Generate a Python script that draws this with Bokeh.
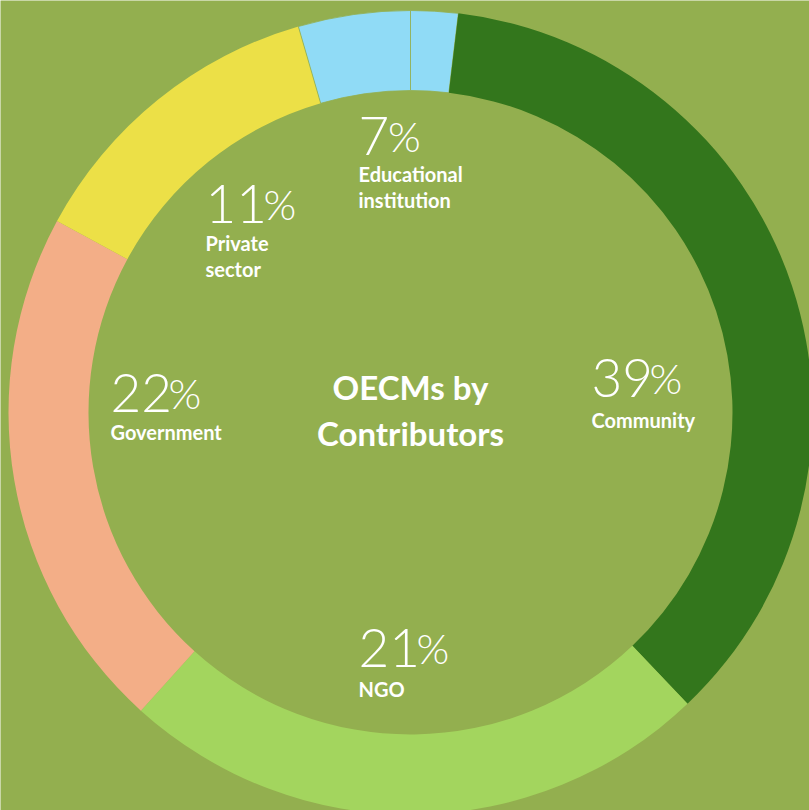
import numpy as np
from bokeh.plotting import figure
from bokeh.models import Range1d, ColumnDataSource
from bokeh.core.properties import value
from bokeh.embed import file_html
from bokeh.resources import INLINE

# ---------------- data ----------------
# ring segments, clockwise from 12 o'clock (share of the full circle, read from the arcs)
segment_names = ["Educational institution", "Community", "NGO", "Government",
                 "Private sector", "Educational institution"]
segment_share = [1.9, 36.0, 23.8, 21.2, 12.6, 4.5]

# printed labels
label_names = ["Community", "NGO", "Government", "Private sector", "Educational institution"]
label_pct = [39, 21, 22, 11, 7]
label_lines = [["Community"], ["NGO"], ["Government"], ["Private", "sector"],
               ["Educational", "institution"]]
title_lines = ["OECMs by", "Contributors"]

# ---------------- style / layout ----------------
W, H = 809, 810
BG = "#93AF4F"
seg_colors = ["#90DBF6", "#33761C", "#A3D55E", "#F3AE87", "#ECE047", "#90DBF6"]
seg_line_alpha = [0.8, 0, 0, 0, 0, 0.8]
CX, CY = 410, H - 412
R_OUT, R_IN = 402, 322

# label anchor positions (pixels from top-left)
lab_x = [591, 358, 110, 205, 358]
num_base = [377, 647, 392, 203, 135]
name_base = [419, 688, 431, 242, 173]
LINE_GAP = 26
DIGIT_W = 28.5
NUM_SIZE, PCT_SIZE, NAME_SIZE, TITLE_SIZE = 53, 42, 20, 33

p = figure(width=W, height=H, x_range=Range1d(0, W), y_range=Range1d(0, H),
           output_backend="svg", toolbar_location=None, min_border=0)
p.axis.visible = False
p.grid.visible = False
p.outline_line_color = None
p.background_fill_color = BG
p.border_fill_color = BG

share = np.array(segment_share, dtype=float)
frac = share / share.sum()
cum_end = np.cumsum(frac) * 2 * np.pi
cum_start = cum_end - frac * 2 * np.pi
src = ColumnDataSource(dict(
    x=[CX] * len(share), y=[CY] * len(share),
    start=(np.pi / 2 - cum_start).tolist(), end=(np.pi / 2 - cum_end).tolist(),
    color=seg_colors, la=seg_line_alpha, name=segment_names))
p.annular_wedge(x="x", y="y", inner_radius=R_IN, outer_radius=R_OUT,
                start_angle="start", end_angle="end", direction="clock",
                fill_color="color", line_color=BG, line_alpha="la", line_width=1,
                source=src)

# numbers and percent signs
nums = [str(v) for v in label_pct]
num_src = ColumnDataSource(dict(x=lab_x, y=[H - b for b in num_base], t=nums))
p.text(x="x", y="y", text="t", source=num_src, text_font=value("Lato Light"),
       text_font_size=f"{NUM_SIZE}px", text_color="white",
       text_baseline="alphabetic", text_align="left")
pct_x = [x + len(n) * DIGIT_W + 1 for x, n in zip(lab_x, nums)]
pct_src = ColumnDataSource(dict(x=pct_x, y=[H - b for b in num_base], t=["%"] * len(nums)))
p.text(x="x", y="y", text="t", source=pct_src, text_font=value("Lato Light"),
       text_font_size=f"{PCT_SIZE}px", text_color="white",
       text_baseline="alphabetic", text_align="left")

# category names (one row per line)
nx, ny, nt = [], [], []
for x, b, lines in zip(lab_x, name_base, label_lines):
    for i, ln in enumerate(lines):
        nx.append(x)
        ny.append(H - (b + i * LINE_GAP))
        nt.append(ln)
p.text(x=nx, y=ny, text=nt, text_font=value("Lato"), text_font_style="bold",
       text_font_size=f"{NAME_SIZE}px", text_color="white",
       text_baseline="alphabetic", text_align="left")

# centre title
title_base = [386, 432]
p.text(x=[CX] * 2, y=[H - b for b in title_base], text=title_lines,
       text_font=value("Lato"), text_font_style="bold",
       text_font_size=f"{TITLE_SIZE}px", text_color="white",
       text_baseline="alphabetic", text_align="center")

open("out.html", "w").write(file_html(p, INLINE))
